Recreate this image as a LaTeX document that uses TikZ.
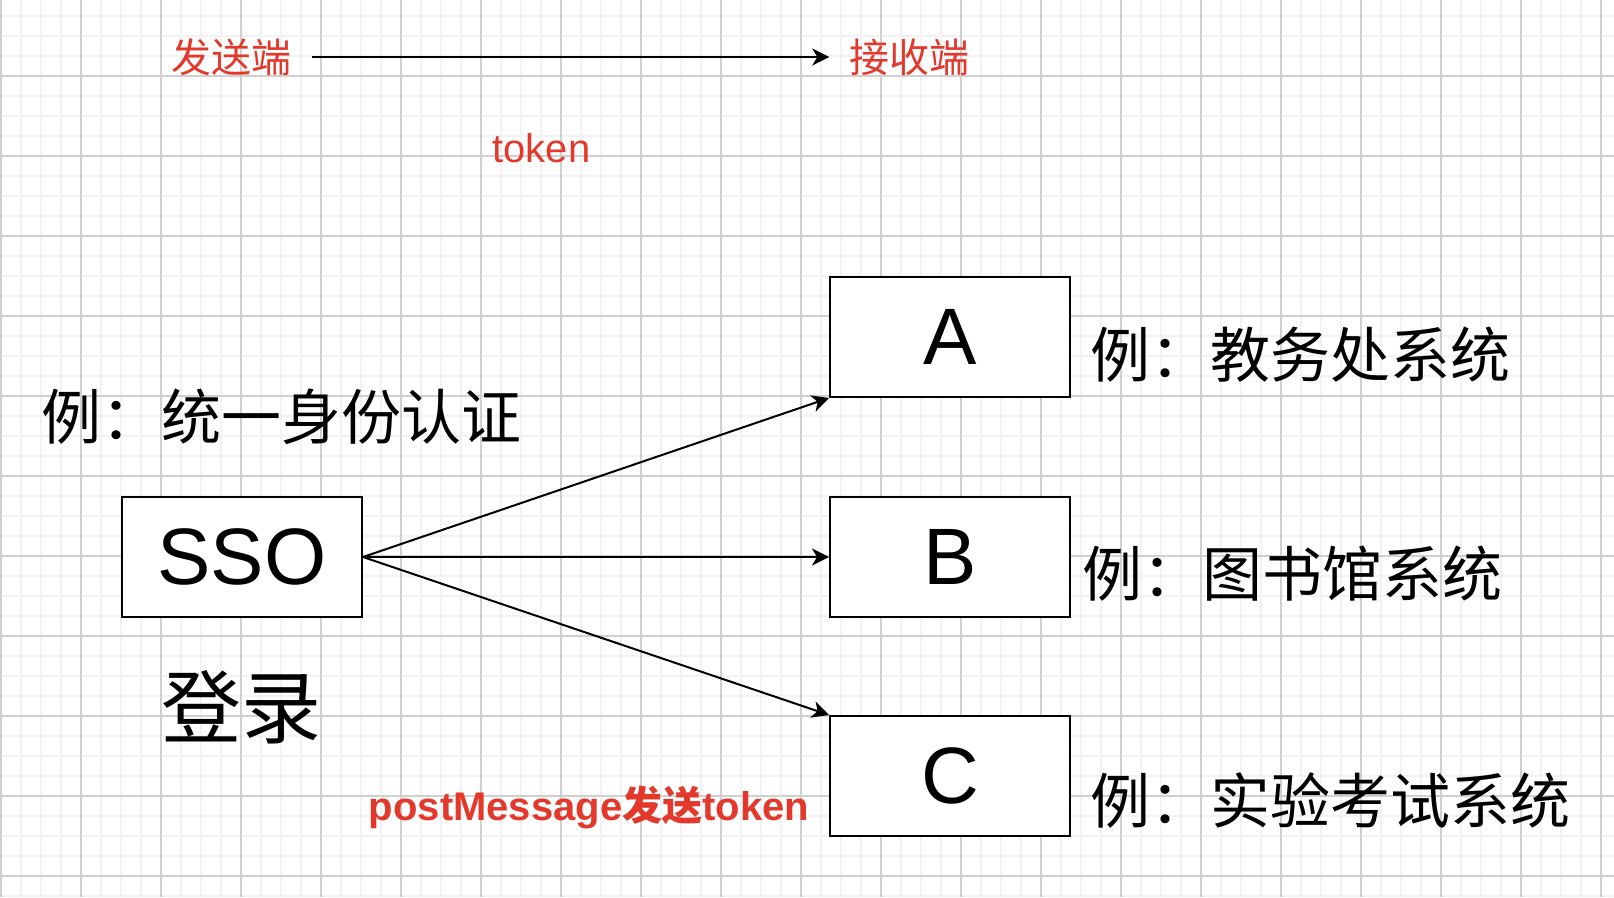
\documentclass[tikz,border=0pt]{standalone}
\usepackage{fontspec}
\setmainfont{Liberation Sans}
\newfontfamily\cjk{Noto Sans CJK SC}
\usetikzlibrary{arrows.meta}
\definecolor{redtxt}{HTML}{E3392C}
\definecolor{minorgrid}{HTML}{F2F2F2}
\definecolor{majorgrid}{HTML}{D0D0D0}
\begin{document}
\begin{tikzpicture}[x=1pt,y=-1pt,
  box/.style={draw=black,line width=2pt,fill=white,minimum width=240pt,minimum height=120pt,inner sep=0pt,font=\fontsize{80}{90}\selectfont},
  conn/.style={line width=2pt,-{Stealth[length=17pt,width=17pt,inset=5pt]}},
  lbl/.style={inner sep=0pt,anchor=center},
  redlbl/.style={lbl,text=redtxt,font=\fontsize{40}{48}\selectfont},
  biglbl/.style={lbl,font=\fontsize{60}{70}\selectfont\cjk},
]
\useasboundingbox (0,0) rectangle (1614,897);
% grid
\foreach \k in {0,...,80} {\draw[minorgrid,line width=2pt] ({1+20*\k},0) -- ({1+20*\k},897);}
\foreach \k in {0,...,44} {\draw[minorgrid,line width=2pt] (0,{16+20*\k}) -- (1614,{16+20*\k});}
\foreach \k in {0,...,20} {\draw[majorgrid,line width=1.2pt] ({1+80*\k},0) -- ({1+80*\k},897);}
\foreach \k in {1,...,11} {\draw[majorgrid,line width=1.2pt] (0,{-4+80*\k}) -- (1614,{-4+80*\k});}

% header
\node[redlbl,font=\fontsize{40}{48}\selectfont\cjk] (send) at (231.5,57) {发送端};
\node[redlbl,font=\fontsize{40}{48}\selectfont\cjk] (recv) at (909.5,57) {接收端};
\draw[conn,shorten <=20pt,shorten >=20pt] (send) -- (recv);
\node[redlbl] (tok) at (541.5,148) {token};

% boxes
\node[box] (sso) at (242,557) {SSO};
\node[box] (a) at (950,337) {A};
\node[box] (b) at (950,557) {B};
\node[box] (c) at (950,776) {C};

\draw[conn] (sso.east) -- (a.south west);
\draw[conn] (sso.east) -- (b.west);
\draw[conn] (sso.east) -- (c.north west);

% labels
\node[biglbl] (ssoex) at (281.5,417) {例：统一身份认证};
\node[lbl,font=\fontsize{80}{90}\selectfont\cjk] (login) at (241,707) {登录};
\node[biglbl] (aex) at (1300.5,355) {例：教务处系统};
\node[biglbl] (bex) at (1292,574) {例：图书馆系统};
\node[biglbl] (cex) at (1330.5,801) {例：实验考试系统};
\node[redlbl,font=\fontsize{40}{48}\selectfont\bfseries] (pm) at (589,807) {postMessage{\cjk 发送}token};
\end{tikzpicture}
\end{document}
